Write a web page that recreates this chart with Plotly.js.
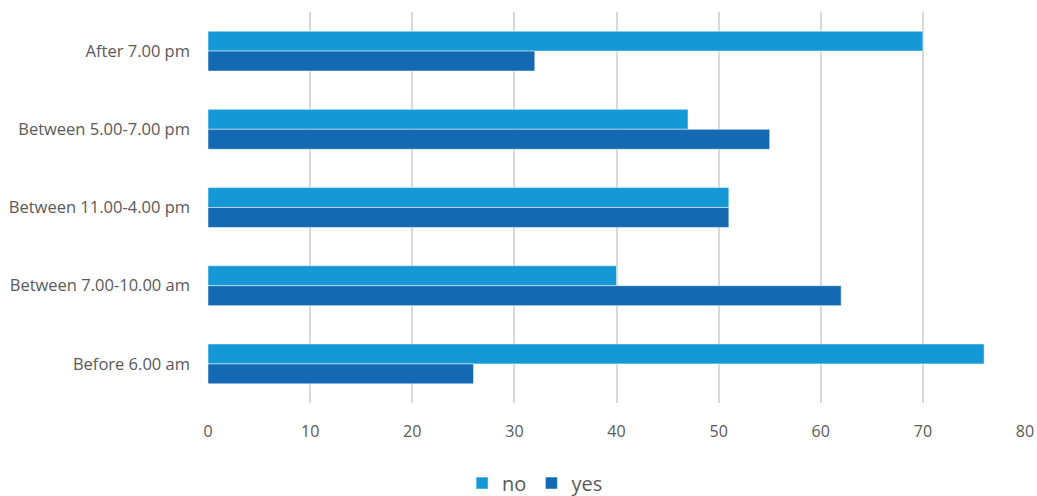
<!DOCTYPE html>
<html>
<head>
<meta charset="utf-8">
<script src="https://cdn.plot.ly/plotly-3.0.1.min.js"></script>
<style>
  html, body { margin: 0; padding: 0; background: #fff; }
  #chart { width: 1037px; height: 496px; }
</style>
</head>
<body>
<div id="chart"></div>
<script>
// Time-of-day categories, listed top to bottom
const categories = [
  'After 7.00 pm',
  'Between 5.00-7.00 pm',
  'Between 11.00-4.00 pm',
  'Between 7.00-10.00 am',
  'Before 6.00 am'
];
const noValues  = [70, 47, 51, 40, 76];
const yesValues = [32, 55, 51, 62, 26];
const xTicks = [0, 10, 20, 30, 40, 50, 60, 70, 80];

const fontFamily = '"Open Sans", "Noto Sans", "Liberation Sans", sans-serif';

const traces = [
  {
    type: 'bar', orientation: 'h', name: 'no',
    y: categories, x: noValues,
    marker: { color: '#1599D6', line: { color: '#ffffff', width: 0.5 } },
    hoverinfo: 'x+name'
  },
  {
    type: 'bar', orientation: 'h', name: 'yes',
    y: categories, x: yesValues,
    marker: { color: '#1469B3', line: { color: '#ffffff', width: 0.5 } },
    hoverinfo: 'x+name'
  }
];

const layout = {
  width: 1037, height: 496,
  margin: { l: 208, r: 12, t: 12, b: 93, autoexpand: false },
  paper_bgcolor: '#ffffff', plot_bgcolor: '#ffffff',
  font: { family: fontFamily, color: '#595959', size: 16 },
  barmode: 'group',
  bargap: 0.49,
  bargroupgap: 0,
  xaxis: {
    range: [0, 80],
    tickvals: xTicks,
    ticktext: xTicks.map(String),
    showgrid: true, gridcolor: '#d9d9d9', gridwidth: 2,
    zeroline: false, showline: false,
    ticks: '', ticklabelstandoff: 17,
    tickfont: { size: 16, color: '#595959' },
    automargin: false,
    fixedrange: true
  },
  yaxis: {
    type: 'category',
    autorange: 'reversed',
    showgrid: false, zeroline: false, showline: false,
    ticks: '', ticklabelstandoff: 17,
    tickfont: { size: 16.5, color: '#595959' },
    automargin: false,
    fixedrange: true
  },
  showlegend: true,
  legend: {
    orientation: 'h',
    xref: 'container',
    x: 0.516, xanchor: 'center',
    yref: 'container',
    y: 0.026, yanchor: 'middle',
    font: { size: 20, color: '#595959' },
    itemwidth: 30,
    traceorder: 'normal'
  }
};

Plotly.newPlot('chart', traces, layout, { displayModeBar: false, staticPlot: true });
</script>
</body>
</html>
